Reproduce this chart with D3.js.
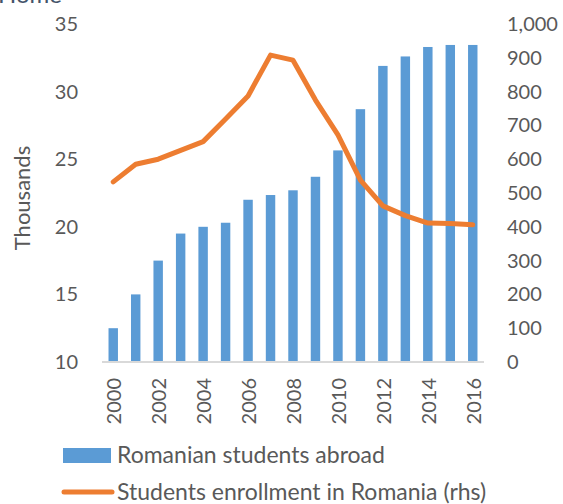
<!DOCTYPE html>
<html>
<head>
<meta charset="utf-8">
<script src="https://cdn.jsdelivr.net/npm/d3@7"></script>
<style>
html,body{margin:0;padding:0;background:#fff;}
svg{display:block;font-family:Lato,"Open Sans",sans-serif;}
</style>
</head>
<body>
<svg id="chart" width="563" height="504"></svg>
<script>
const years = [2000,2001,2002,2003,2004,2005,2006,2007,2008,2009,2010,2011,2012,2013,2014,2015,2016];
const abroad = [12.5,15.0,17.5,19.5,20.0,20.3,22.0,22.35,22.7,23.7,25.65,28.7,31.9,32.6,33.3,33.45,33.45];
const enrollment = [533,585,600,626,652,719,787,908,893,775,672,538,462,433,411,410,406];
const leftTicks = [10,15,20,25,30,35];
const rightTicks = [0,100,200,300,400,500,600,700,800,900,1000];
const xLabelYears = [2000,2002,2004,2006,2008,2010,2012,2014,2016];
const seriesNames = ["Romanian students abroad","Students enrollment in Romania (rhs)"];
const leftTitle = "Thousands";
const topTitle = "Home";

const svg = d3.select("#chart");
const plot = {left:102, right:484, top:24, bottom:362};
const textColor = "#595959";
const blue = "#5B9BD5", orange = "#ED7D31";

const x = d3.scaleBand().domain(years).range([plot.left, plot.right]).paddingInner(0.58).paddingOuter(0.29);
const yL = d3.scaleLinear().domain([10,35]).range([plot.bottom, plot.top]);
const yR = d3.scaleLinear().domain([0,1000]).range([plot.bottom, plot.top]);

// partial title at top
svg.append("text").attr("x",62).attr("y",3).attr("text-anchor","end")
  .attr("font-size",24).attr("fill","#44546A").text(topTitle);

// bars
svg.append("g").selectAll("rect").data(years).join("rect")
  .attr("x", d => x(d))
  .attr("width", x.bandwidth())
  .attr("y", (d,i) => yL(abroad[i]))
  .attr("height", (d,i) => yL(10) - yL(abroad[i]))
  .attr("fill", blue);

// x axis line
svg.append("line").attr("x1",plot.left).attr("x2",plot.right)
  .attr("y1",plot.bottom).attr("y2",plot.bottom)
  .attr("stroke","#D9D9D9").attr("stroke-width",2);

// left axis
const gL = svg.append("g").attr("transform",`translate(${plot.left},0)`)
  .call(d3.axisLeft(yL).tickValues(leftTicks).tickSize(0).tickPadding(24));
gL.select(".domain").remove();
gL.selectAll("text").attr("font-size",20).attr("fill",textColor).attr("font-family","Lato");

// right axis
const gR = svg.append("g").attr("transform",`translate(${plot.right},0)`)
  .call(d3.axisRight(yR).tickValues(rightTicks).tickSize(0).tickPadding(23).tickFormat(d3.format(",")));
gR.select(".domain").remove();
gR.selectAll("text").attr("font-size",20).attr("fill",textColor).attr("font-family","Lato");

// x labels
const bw = x.bandwidth();
svg.append("g").selectAll("text").data(xLabelYears).join("text")
  .attr("transform", d => `translate(${x(d)+bw/2+8},378) rotate(-90)`)
  .attr("text-anchor","end")
  .attr("font-size",20).attr("fill",textColor)
  .text(d => d);

// line
const line = d3.line().x((d,i) => x(years[i]) + bw/2).y(d => yR(d));
svg.append("path").datum(enrollment).attr("d", line)
  .attr("fill","none").attr("stroke",orange).attr("stroke-width",5)
  .attr("stroke-linejoin","round").attr("stroke-linecap","round");

// left title
svg.append("text").attr("transform","translate(30,198) rotate(-90)")
  .attr("text-anchor","middle").attr("font-size",22).attr("fill",textColor)
  .text(leftTitle);

// legend
svg.append("rect").attr("x",63).attr("y",448).attr("width",48).attr("height",15).attr("fill",blue);
svg.append("text").attr("x",117).attr("y",463).attr("font-size",23).attr("fill",textColor).text(seriesNames[0]);
svg.append("line").attr("x1",64).attr("x2",112).attr("y1",492).attr("y2",492)
  .attr("stroke",orange).attr("stroke-width",5).attr("stroke-linecap","round");
svg.append("text").attr("x",117).attr("y",500).attr("font-size",23).attr("fill",textColor).text(seriesNames[1]);
</script>
</body>
</html>
